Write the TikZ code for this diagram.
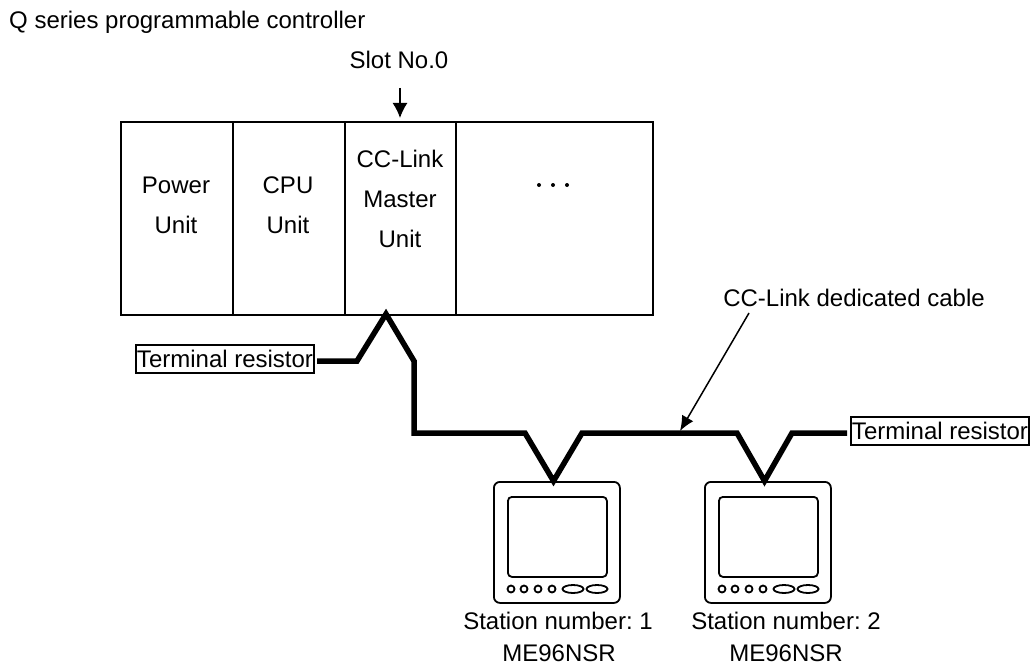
\documentclass[tikz,border=0pt]{standalone}
\usepackage{fontspec}
\setmainfont{Liberation Sans}
\usetikzlibrary{arrows.meta}
\frenchspacing
\tikzset{
  txt/.style={inner sep=0pt,font=\fontsize{24}{40}\selectfont,align=center},
  unitbox/.style={draw,line width=2pt,minimum height=193pt,inner sep=0pt,anchor=north west},
  termbox/.style={draw,line width=2pt,inner sep=0pt,minimum height=28pt,font=\fontsize{24}{28}\selectfont},
  cable/.style={line width=5.5pt,line join=miter,miter limit=10},
  lead/.style={line width=1.5pt,-{Latex[length=15pt,width=13pt]}},
  hmi/.style={line width=1.8pt},
}
\newcommand{\hmipanel}[2]{%
  \node[draw,hmi,rounded corners=6pt,minimum width=126pt,minimum height=121pt,inner sep=0pt,anchor=north west] (#2) at (#1,481) {};
  \node[draw,hmi,rounded corners=4pt,minimum width=99pt,minimum height=80pt,inner sep=0pt,anchor=north west] (#2s) at (#1+14,496) {};
  \foreach \bx in {18,31,45,59}{\draw[hmi] (#1+\bx,589) circle (3.5);}
  \draw[hmi] (#1+80,589) ellipse (10.5 and 4);
  \draw[hmi] (#1+104,589) ellipse (10.5 and 4);
}
\begin{document}
\begin{tikzpicture}[x=1pt,y=-1pt]
\useasboundingbox (0,0) rectangle (1033,666);
\node[txt,anchor=west] (title) at (9,22) {Q series programmable controller};
\node[txt] (slot) at (399,60) {Slot No.0};
\node[unitbox,minimum width=112pt] (power) at (120,121) {};
\node[unitbox,minimum width=111.5pt] (cpu) at (232,121) {};
\node[unitbox,minimum width=111.5pt] (master) at (343.5,121) {};
\node[unitbox,minimum width=197pt] (rest) at (455,121) {};
\node[txt] (powertxt) at (176,205) {Power\\Unit};
\node[txt] (cputxt) at (288,205) {CPU\\Unit};
\node[txt] (mastertxt) at (400,199) {CC-Link\\Master\\Unit};
\foreach \dx in {-14,0,14}{\fill (553+\dx,185) circle (2);}
\coordinate (slottip) at (400,118);
\coordinate (slotstart) at (400,88);
\draw[line width=1.5pt,-{Latex[length=15pt,width=15pt]}] (slotstart) -- (slottip);
\node[termbox,minimum width=178pt] (termL) at (225,358.5) {Terminal resistor};
\node[termbox,minimum width=178pt] (termR) at (940,430.5) {Terminal resistor};
\hmipanel{493}{hmiA}
\hmipanel{704}{hmiB}
\node[txt] (labA) at (558,621) {Station number: 1};
\node[txt] (modA) at (559,653) {ME96NSR};
\node[txt] (labB) at (786,621) {Station number: 2};
\node[txt] (modB) at (786,653) {ME96NSR};
\node[txt] (cablelab) at (854,298) {CC-Link dedicated cable};
\coordinate (c1) at (357,361);
\coordinate (peak) at (386,314);
\coordinate (c2) at (414,361);
\coordinate (c3) at (414,433);
\coordinate (c4) at (525,433);
\coordinate (v1) at (553.5,481);
\coordinate (c5) at (582,433);
\coordinate (c6) at (737,433);
\coordinate (v2) at (764.5,481);
\coordinate (c7) at (792,433);
\coordinate (s1) at (317,361);
\coordinate (s2) at (847,433);
\draw[cable] (s1) -- (c1) -- (peak) -- (c2) -- (c3) -- (c4) -- (v1) -- (c5) -- (c6) -- (v2) -- (c7) -- (s2);
\coordinate (leadstart) at (749,313);
\coordinate (leadend) at (680,431);
\draw[lead] (leadstart) -- (leadend);
\end{tikzpicture}
\end{document}
